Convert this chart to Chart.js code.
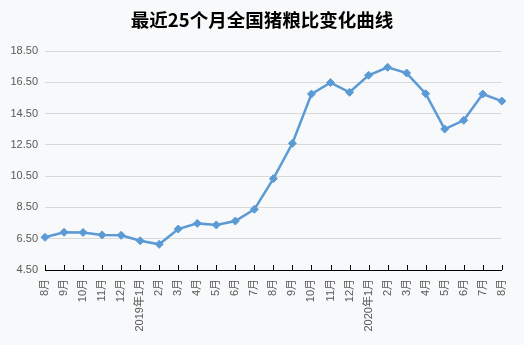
<!DOCTYPE html>
<html>
<head>
<meta charset="utf-8">
<script src="https://cdn.jsdelivr.net/npm/chart.js@4"></script>
<style>
  html, body { margin: 0; padding: 0; background: #f8f9fa; }
  #wrap { width: 524px; height: 345px; }
</style>
</head>
<body>
<div id="wrap"><canvas id="c" width="524" height="345"></canvas></div>
<script>
// 月份标签（2018年8月 — 2020年8月）
const months = ['8月','9月','10月','11月','12月','2019年1月','2月','3月','4月','5月','6月','7月',
                '8月','9月','10月','11月','12月','2020年1月','2月','3月','4月','5月','6月','7月','8月'];
// 全国猪粮比
const ratio = [6.59, 6.91, 6.90, 6.74, 6.72, 6.37, 6.14, 7.12, 7.48, 7.38, 7.63, 8.38,
               10.34, 12.60, 15.75, 16.48, 15.86, 16.95, 17.46, 17.09, 15.77, 13.51, 14.07, 15.75, 15.30];
// 纵轴范围与刻度
const yMin = 4.5, yMax = 18.5, yStep = 2;

const labelFont = { family: "'Liberation Sans', 'Noto Sans CJK SC', sans-serif", size: 11 };

// 背景色
const bgPlugin = {
  id: 'bg',
  beforeDraw(chart) {
    const ctx = chart.ctx;
    ctx.save();
    ctx.fillStyle = '#f8f9fa';
    ctx.fillRect(0, 0, chart.width, chart.height);
    ctx.restore();
  }
};

// 横轴内侧刻度线
const innerTicks = {
  id: 'innerTicks',
  afterDraw(chart) {
    const x = chart.scales.x;
    const ctx = chart.ctx;
    const yb = chart.chartArea.bottom;
    ctx.save();
    ctx.strokeStyle = '#000';
    ctx.lineWidth = 1;
    ctx.beginPath();
    for (let i = 0; i < x.ticks.length; i++) {
      const px = Math.round(x.getPixelForTick(i)) + 0.5;
      ctx.moveTo(px, yb);
      ctx.lineTo(px, yb - 5);
    }
    ctx.stroke();
    ctx.restore();
  }
};

new Chart(document.getElementById('c'), {
  type: 'line',
  data: {
    labels: months,
    datasets: [{
      data: ratio,
      borderColor: '#5b9bd5',
      backgroundColor: '#5b9bd5',
      borderWidth: 2.5,
      pointStyle: 'rectRot',
      pointRadius: 4,
      pointBorderWidth: 1,
      tension: 0,
      fill: false
    }]
  },
  options: {
    responsive: false,
    animation: false,
    layout: { padding: 0 },
    plugins: {
      legend: { display: false },
      tooltip: { enabled: false },
      title: {
        display: true,
        text: '最近25个月全国猪粮比变化曲线',
        color: '#000',
        font: { family: "'Noto Sans CJK SC', sans-serif", size: 18.5, weight: 'bold', lineHeight: 1.2 },
        padding: { top: 9, bottom: 19.8 }
      }
    },
    scales: {
      x: {
        offset: false,
        grid: { display: false, drawTicks: false },
        border: { display: true, color: '#000', width: 1 },
        ticks: {
          autoSkip: false,
          maxRotation: 90,
          minRotation: 90,
          padding: 9,
          color: '#595959',
          font: labelFont
        },
        afterFit(scale) { scale.height = 75; }
      },
      y: {
        min: yMin,
        max: yMax,
        grid: { color: '#d9d9d9', lineWidth: 1, drawTicks: false },
        border: { display: false },
        ticks: {
          stepSize: yStep,
          padding: 7,
          color: '#595959',
          font: labelFont,
          callback: v => v.toFixed(2)
        },
        afterFit(scale) { scale.width = 45; }
      },
      // 右侧留白
      gutter: {
        position: 'right',
        display: true,
        grid: { display: false, drawTicks: false },
        border: { display: false },
        ticks: { display: false },
        afterFit(scale) { scale.width = 21; }
      }
    }
  },
  plugins: [bgPlugin, innerTicks]
});
</script>
</body>
</html>
